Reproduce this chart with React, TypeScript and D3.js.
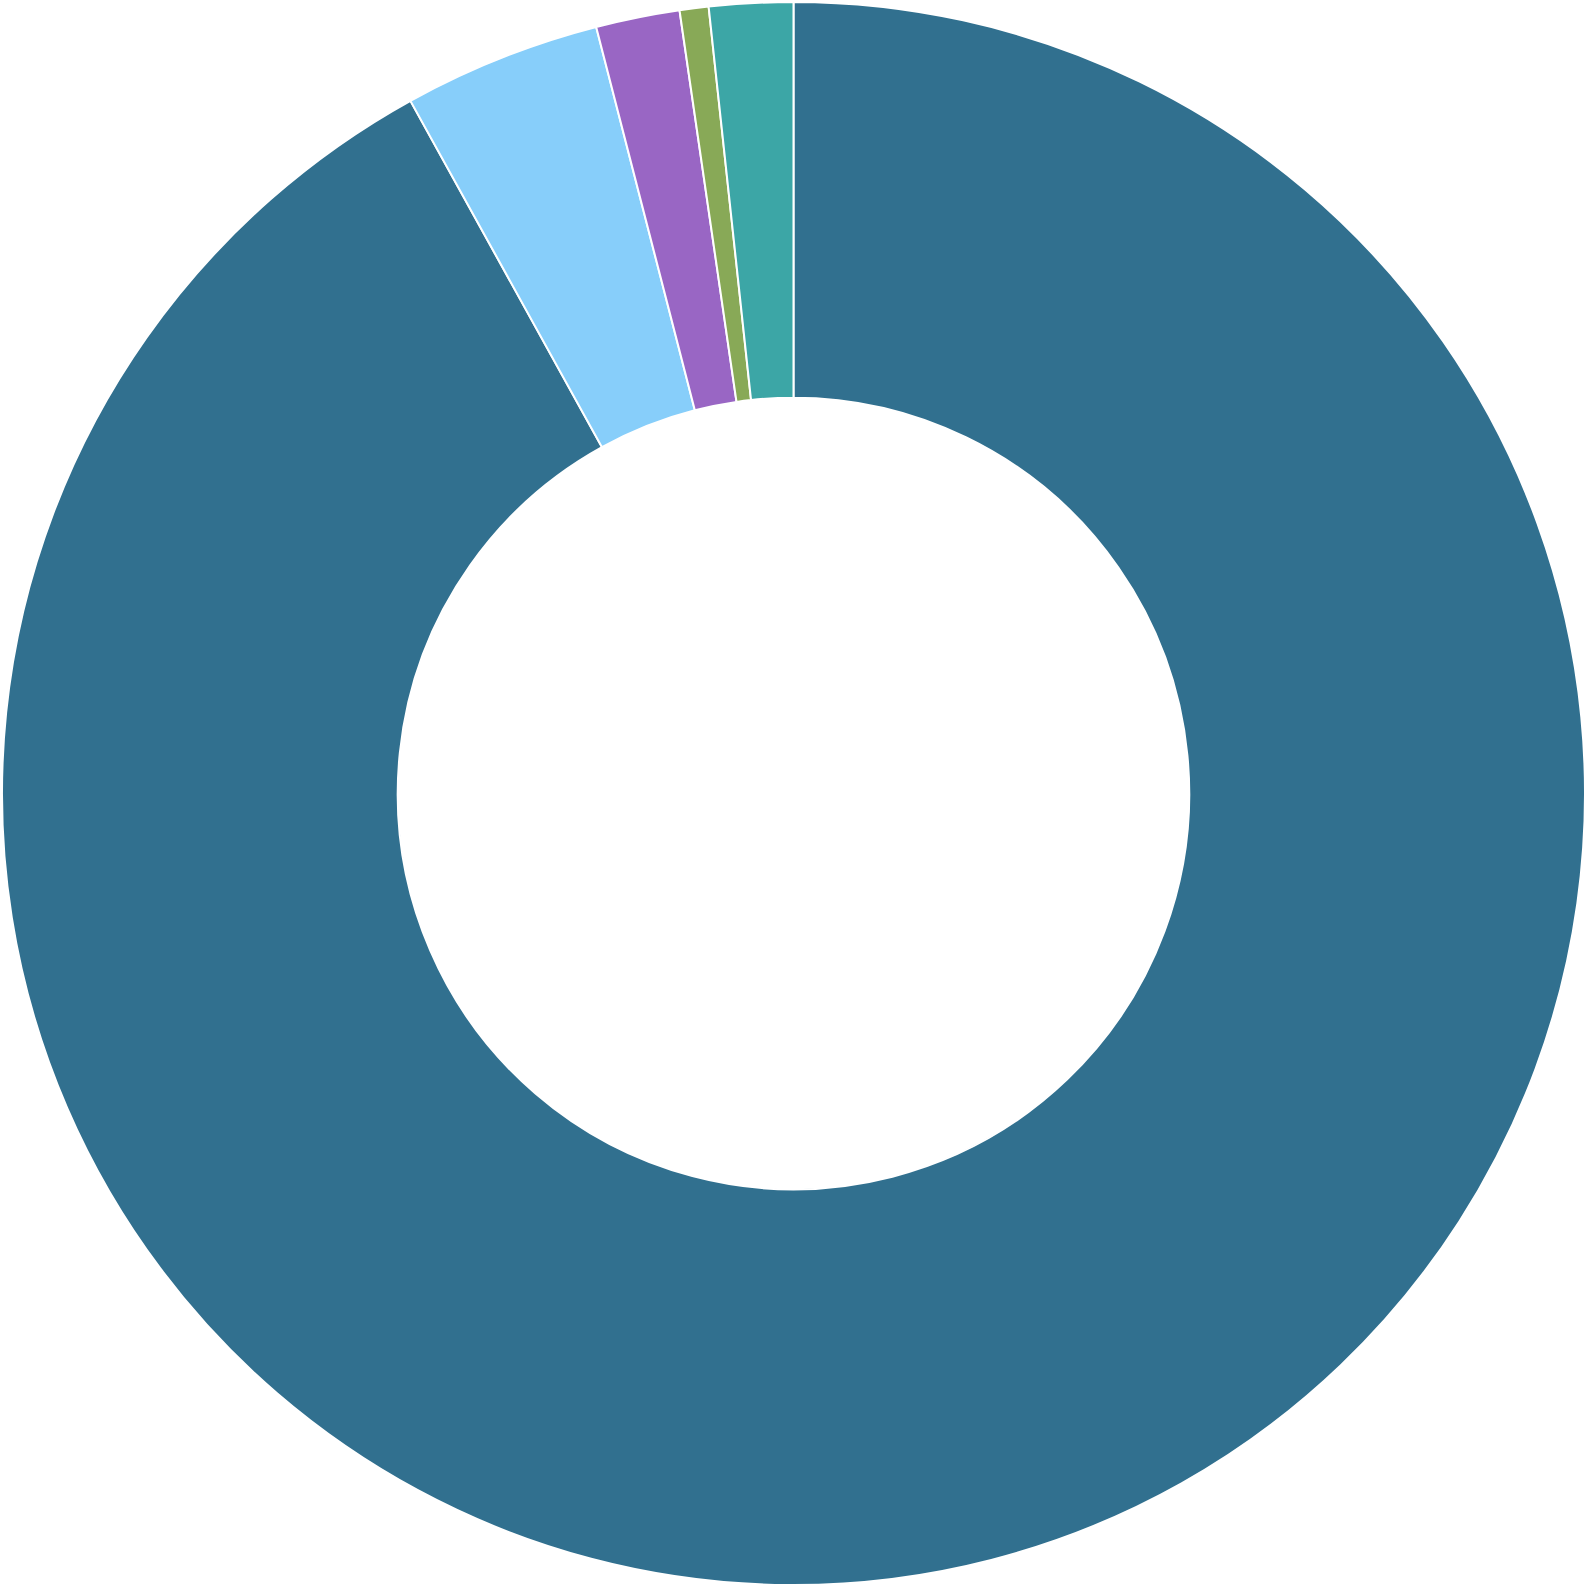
import React, { useRef, useEffect } from "react";
import * as d3 from "d3";

const labels = ["A", "B", "C", "D", "E"];
const values = [91.96, 4.03, 1.71, 0.59, 1.71];
const colors = ["#31708f", "#87cefa", "#9966c4", "#88a957", "#3ca6a6"];

const App = () => {
  const ref = useRef<SVGSVGElement>(null);

  useEffect(() => {
    const svg = d3.select(ref.current);
    svg.selectAll("*").remove();

    const size = 1587;
    const outer = 791.5;
    const inner = outer * 0.5;

    svg.attr("width", size).attr("height", size);

    const data = labels.map((l, i) => ({ label: l, value: values[i], color: colors[i] }));

    const pie = d3
      .pie<any>()
      .sort(null)
      .value((d) => d.value);

    const arc = d3.arc<any>().innerRadius(inner).outerRadius(outer);

    const g = svg.append("g").attr("transform", `translate(${size / 2},${size / 2})`);

    g.selectAll("path")
      .data(pie(data))
      .join("path")
      .attr("d", arc)
      .attr("fill", (d) => d.data.color)
      .attr("stroke", "white")
      .attr("stroke-width", 2);
  }, []);

  return (
    <svg
      ref={ref}
      style={{ position: "absolute", top: 0, left: 0, display: "block" }}
    ></svg>
  );
};

export default App;
